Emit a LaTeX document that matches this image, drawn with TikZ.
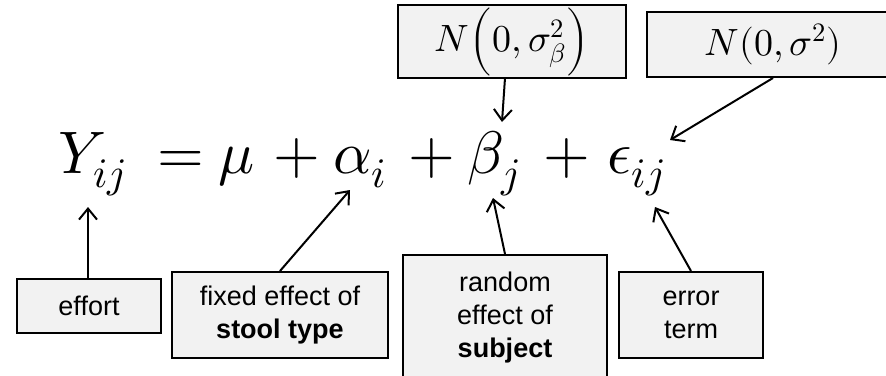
\documentclass[tikz,border=0pt]{standalone}
\usepackage{fontspec}
\usepackage{unicode-math}
\setmainfont{Liberation Sans}
\setmathfont{Latin Modern Math}
\usetikzlibrary{arrows.meta}
\definecolor{boxgray}{HTML}{F2F2F2}
\begin{document}
\begin{tikzpicture}[x=1pt,y=-1pt,
  lbl/.style={draw=black, line width=2pt, fill=boxgray, align=center, inner sep=0pt,
    font=\fontsize{27}{33}\selectfont},
  mlbl/.style={lbl, font=\fontsize{38}{40}\selectfont},
  arr/.style={line width=2pt, -{Straight Barb[length=11pt,width=18pt,line width=2pt]}},
  term/.style={anchor=base west, inner sep=0pt, font=\fontsize{60}{72}\selectfont}]
\useasboundingbox (0,0) rectangle (886,375);
\clip (0,0) rectangle (886,375);
% equation
\node[term] (Y) at (58,173) {$Y_{ij}$};
\node[term] (eq) at (157,173) {$=$};
\node[term] (mu) at (218,173) {$\mu$};
\node[term] (p1) at (273,173) {$+$};
\node[term] (alpha) at (333,173) {$\alpha_i$};
\node[term] (p2) at (408,173) {$+$};
\node[term] (beta) at (467,173) {$\beta_j$};
\node[term] (p3) at (543,173) {$+$};
\node[term] (eps) at (607,173) {$\epsilon_{ij}$};
% top boxes
\node[mlbl, minimum width=228pt, minimum height=73pt] (nb) at (512,41.5) {$N\Bigl(0,\sigma_\beta^2\Bigr)$};
\node[mlbl, minimum width=252pt, minimum height=65pt] (ns) at (773,44.5) {$N(0,\sigma^2)$};
% bottom boxes
\node[lbl, minimum width=144pt, minimum height=54pt] (effort) at (89,306) {effort};
\node[lbl, minimum width=216pt, minimum height=86pt] (fixed) at (280,315) {fixed effect of\\\textbf{stool type}};
\node[lbl, minimum width=204pt, minimum height=126pt] (random) at (505,318) {random\\effect of\\\textbf{subject}};
\node[lbl, minimum width=144pt, minimum height=86pt] (error) at (691,315) {error\\term};
% arrow targets
\coordinate (tY) at (88,207);
\coordinate (tA) at (350,190);
\coordinate (tB) at (493,198);
\coordinate (tE) at (655,207);
\coordinate (tBt) at (502,122);
\coordinate (tEt) at (670,140);
\coordinate (sNb) at (505,78);
\draw[arr] (effort.north -| tY) -- (tY);
\draw[arr] (fixed.north) -- (tA);
\draw[arr] (random.north) -- (tB);
\draw[arr] (error.north) -- (tE);
\draw[arr] (sNb) -- (tBt);
\draw[arr] (ns.south) -- (tEt);
\end{tikzpicture}
\end{document}
